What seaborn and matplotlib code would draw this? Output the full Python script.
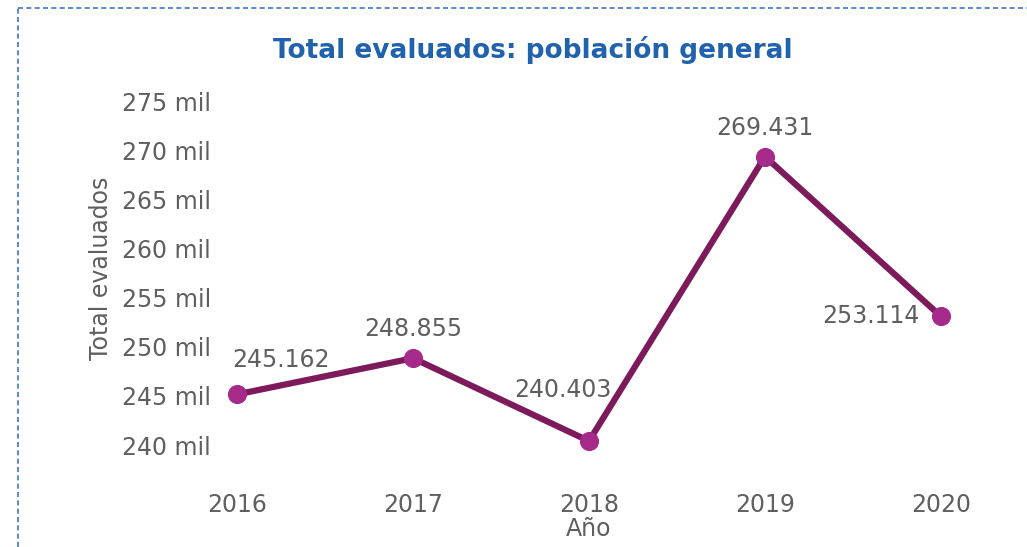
import matplotlib
matplotlib.use("Agg")
import matplotlib.pyplot as plt
import seaborn as sns
import pandas as pd
from matplotlib.lines import Line2D
from matplotlib.ticker import FuncFormatter

years = ["2016", "2017", "2018", "2019", "2020"]
values = [245162, 248855, 240403, 269431, 253114]
labels = ["245.162", "248.855", "240.403", "269.431", "253.114"]
ytick_vals = [240000, 245000, 250000, 255000, 260000, 265000, 270000, 275000]

# label offsets in pixels (dx, dy)
label_offsets = [(44, 34), (0, 29), (-26, 51), (0, 29), (-70, 0)]

sns.set_theme(style="white")
plt.rcParams['font.family'] = ['DejaVu Sans']

df = pd.DataFrame({"Año": years, "Total evaluados": values})

fig = plt.figure(figsize=(10.27, 5.47), dpi=100)
ax = fig.add_axes([225/1027, 1-460/547, 760/1027, 365/547])

line_col = "#7D1A5C"
mark_col = "#A52A8A"
text_col = "#5F5F5F"

sns.lineplot(data=df, x="Año", y="Total evaluados", ax=ax, color=line_col,
             linewidth=4.5, marker="o", markersize=13,
             markerfacecolor=mark_col, markeredgecolor=mark_col, sort=False)

for i, (v, lab, (dx, dy)) in enumerate(zip(values, labels, label_offsets)):
    ax.annotate(lab, (i, v), xytext=(dx, dy), textcoords="offset pixels",
                ha="center", va="center", fontsize=17, color=text_col)

ax.set_xlim(-0.068, 4.25)
ax.set_ylim(238470, 275710)
ax.set_yticks(ytick_vals)
ax.yaxis.set_major_formatter(FuncFormatter(lambda v, p: f"{int(round(v/1000))} mil"))
ax.tick_params(axis="y", labelsize=17, labelcolor=text_col, length=0, pad=10)
ax.tick_params(axis="x", labelsize=17, labelcolor=text_col, length=0, pad=24)
for s in ax.spines.values():
    s.set_visible(False)
ax.grid(False)

ax.set_ylabel("Total evaluados", fontsize=17, color=text_col)
ax.set_xlabel("Año", fontsize=17, color=text_col)
ax.yaxis.set_label_coords(-0.148, 0.525)
ax.xaxis.set_label_coords(0.479, -0.156)

fig.text(533/1027, 1-50/547, "Total evaluados: población general",
         ha="center", va="center", fontsize=19, fontweight="bold", color="#2162AC")

# dashed card border (top and left)
border_col = "#3A78C2"
fig.add_artist(Line2D([18/1027, 1.0], [1-8/547, 1-8/547], transform=fig.transFigure,
                      color=border_col, linestyle=(0, (3, 2)), linewidth=1.2))
fig.add_artist(Line2D([18/1027, 18/1027], [0, 1-8/547], transform=fig.transFigure,
                      color=border_col, linestyle=(0, (3, 2)), linewidth=1.2))

fig.savefig("out.png", dpi=100)
